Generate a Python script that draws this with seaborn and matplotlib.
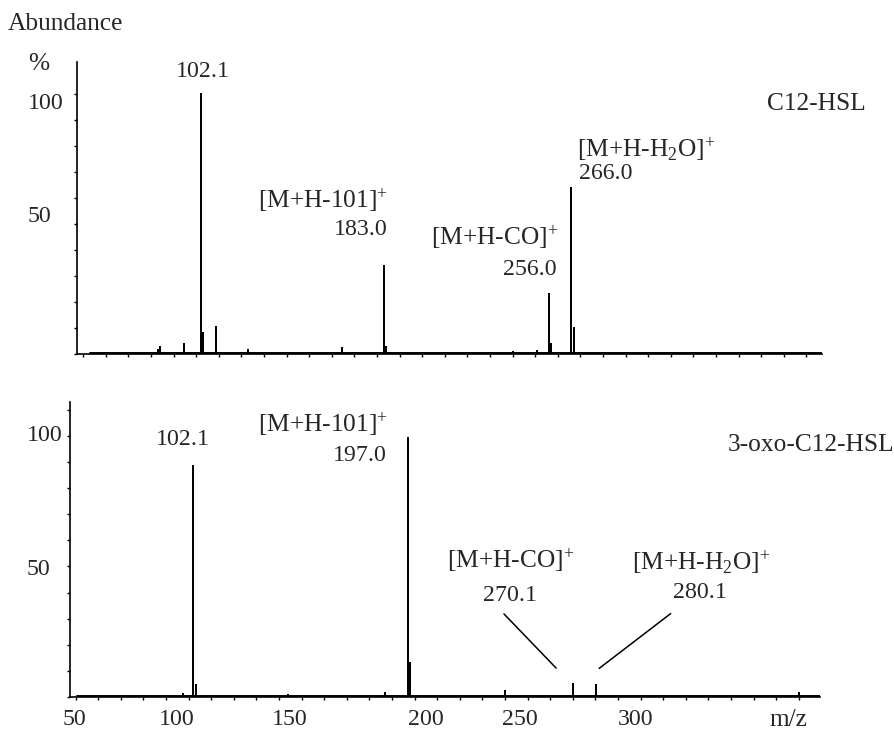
import numpy as np
import pandas as pd
import matplotlib
matplotlib.use("Agg")
import matplotlib.pyplot as plt
import seaborn as sns

# ---------------- data ----------------
# C12-HSL spectrum (m/z, relative abundance %)
top_mz = [83.0, 84.0, 94.6, 102.1, 103.1, 108.7, 122.8, 164.7, 183.0, 184.0,
          240.0, 250.8, 256.0, 257.0, 266.0, 267.0]
top_ab = [1.5, 2.5, 4.0, 100.0, 8.0, 10.5, 1.5, 2.3, 34.0, 2.5,
          0.9, 1.0, 23.0, 4.0, 64.0, 10.0]
top_range = [53.0, 376.9]

# 3-oxo-C12-HSL spectrum
bot_mz = [97.5, 102.1, 103.1, 144.0, 187.0, 197.0, 198.0, 240.0, 270.1, 280.1, 370.0]
bot_ab = [1.0, 88.5, 4.6, 0.8, 1.5, 99.2, 13.0, 2.3, 5.0, 4.6, 1.5]
bot_range = [50.6, 379.4]

baseline_level = 0.5

xtick_labels = ["50", "100", "150", "200", "250", "300"]
xtick_pos = [49.3, 94.7, 144.9, 205.1, 246.7, 297.6]
ytick_labels = ["100", "50"]
top_ytick_pos = [97.3, 53.8]
bot_ytick_pos = [101.1, 49.8]

# ---------------- style ----------------
sns.set_theme(style="ticks")
plt.rcParams["font.family"] = ["Liberation Serif", "DejaVu Serif"]
plt.rcParams["mathtext.fontset"] = "custom"
plt.rcParams["mathtext.rm"] = "Liberation Serif"
plt.rcParams["mathtext.it"] = "Liberation Serif:italic"
plt.rcParams["mathtext.bf"] = "Liberation Serif:bold"
FS_NUM = 17.2
FS_TXT = 18.3

W, H = 895, 736
fig = plt.figure(figsize=(W / 100, H / 100), dpi=100)
fig.patch.set_facecolor("white")


def rect(l, r, t, b):
    return [l / W, 1 - b / H, (r - l) / W, (b - t) / H]


def stick_frame(mz, ab, rng):
    xs, ys = [rng[0]], [baseline_level]
    for m, a in sorted(zip(mz, ab)):
        xs += [m, m, m]
        ys += [baseline_level, a, baseline_level]
    xs.append(rng[1])
    ys.append(baseline_level)
    return pd.DataFrame({"mz": xs, "abundance": ys})


def style_axes(ax, ymax_minor, ytick_pos, ypad):
    sns.despine(ax=ax)
    for s in ("left", "bottom"):
        ax.spines[s].set_linewidth(1.2)
        ax.spines[s].set_color("black")
    ax.set_xlabel("")
    ax.set_ylabel("")
    ax.set_xticks(np.arange(50, 371, 10), minor=True)
    ax.set_yticks(np.arange(0, ymax_minor + 1, 10), minor=True)
    ax.set_yticks(ytick_pos)
    ax.set_yticklabels(ytick_labels, fontsize=FS_NUM)
    ax.tick_params(axis="y", which="major", length=0, pad=ypad)
    ax.tick_params(which="minor", direction="out", length=2.2, width=1, color="black")
    for lbl in ax.get_yticklabels():
        lbl.set_horizontalalignment("left")
    ax.set_facecolor("white")


# top panel
ax1 = fig.add_axes(rect(77, 822, 62, 354))
df1 = stick_frame(top_mz, top_ab, top_range)
sns.lineplot(data=df1, x="mz", y="abundance", sort=False, estimator=None,
             color="black", linewidth=1.4, ax=ax1)
ax1.set_xlim(47.23, 376.9)
ax1.set_ylim(0, 112.3)
style_axes(ax1, 100, top_ytick_pos, 35.3)
ax1.set_xticks([])

# bottom panel
ax2 = fig.add_axes(rect(70, 820, 402, 697))
df2 = stick_frame(bot_mz, bot_ab, bot_range)
sns.lineplot(data=df2, x="mz", y="abundance", sort=False, estimator=None,
             color="black", linewidth=1.4, ax=ax2)
ax2.set_xlim(47.54, 379.4)
ax2.set_ylim(0, 113)
style_axes(ax2, 110, bot_ytick_pos, 31)
ax2.set_xticks(xtick_pos)
ax2.set_xticklabels(xtick_labels, fontsize=FS_NUM)
ax2.tick_params(axis="x", which="major", length=0, pad=8.4)
ax2.annotate("m/z", xy=(365.2, 0), xycoords=("data", "axes fraction"),
             xytext=(0, -8.4), textcoords="offset points", ha="center", va="top",
             fontsize=FS_TXT)

# connector lines for small peaks
ax2.annotate("", xy=(263.5, 10.3), xytext=(238.7, 32.6),
             arrowprops=dict(arrowstyle="-", lw=1.1, color="black"))
ax2.annotate("", xy=(280.7, 10.3), xytext=(314.3, 32.6),
             arrowprops=dict(arrowstyle="-", lw=1.1, color="black"))


def ftext(px, py, s, ha="left", fs=FS_TXT):
    fig.text(px / W, 1 - py / H, s, ha=ha, va="baseline", fontsize=fs)


ftext(8, 30, "Abundance")
ftext(28, 70, "%")
# top annotations
ftext(203, 77, "102.1", "center", FS_NUM)
ftext(388, 208, r"[M+H-101]$^{+}$", "right")
ftext(388, 235, "183.0", "right", FS_NUM)
ftext(558, 245, r"[M+H-CO]$^{+}$", "right")
ftext(557, 275, "256.0", "right", FS_NUM)
ftext(577, 157, r"[M+H-H$_{2}$O]$^{+}$", "left")
ftext(579, 179, "266.0", "left", FS_NUM)
ftext(767, 110, "C12-HSL", "left")
# bottom annotations
ftext(182.5, 445, "102.1", "center", FS_NUM)
ftext(388, 432, r"[M+H-101]$^{+}$", "right")
ftext(387, 461, "197.0", "right", FS_NUM)
ftext(728, 451, "3-oxo-C12-HSL", "left")
ftext(511, 568, r"[M+H-CO]$^{+}$", "center")
ftext(510, 601, "270.1", "center", FS_NUM)
ftext(701, 570, r"[M+H-H$_{2}$O]$^{+}$", "center")
ftext(700, 598, "280.1", "center", FS_NUM)

fig.savefig("out.png", dpi=100, facecolor="white")
